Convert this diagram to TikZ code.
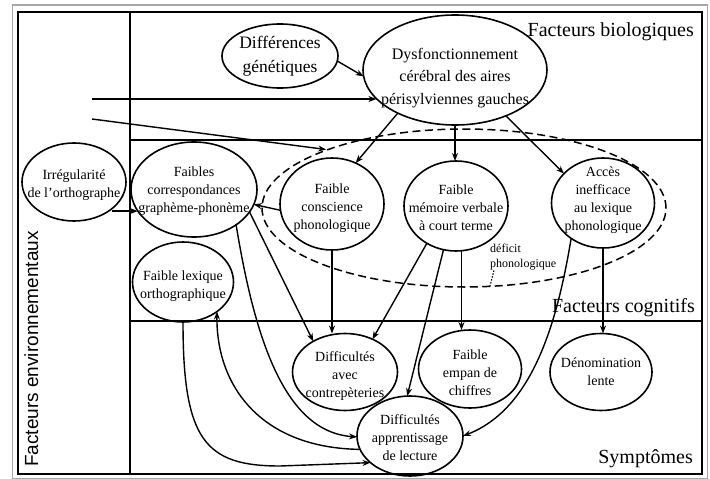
\documentclass[tikz,border=0pt]{standalone}
\usepackage{fontspec}
\setmainfont{Liberation Serif}
\newfontfamily\envfont{Liberation Sans}
\usetikzlibrary{arrows.meta,shapes.geometric}
\begin{document}
\begin{tikzpicture}[x=1pt,y=-1pt,
  oval/.style={draw, ellipse, line width=1.6pt, inner sep=0pt, outer sep=0pt},
  lbl/.style={font=\fontsize{14}{18}\selectfont, align=center, inner sep=0pt},
  arr/.style={line width=1.4pt, -{Stealth[length=8pt,width=6pt]}},
  title/.style={font=\fontsize{20}{24}\selectfont, inner sep=0pt},
  sep/.style={line width=1.6pt}
]
\useasboundingbox (0,0) rectangle (710,479);
\fill[white] (0,0) rectangle (710,479);
% frames
\draw[gray!70, line width=1.4pt] (12.5,5) rectangle (707.5,478.3);
\draw[line width=2pt] (17.5,12) rectangle (702,474);
\draw[sep] (130,12) -- (130,474);
\draw[sep] (130,140) -- (702,140);
\draw[sep] (130,321) -- (702,321);

% titles
\node[title, anchor=base east] (tb) at (694,36) {Facteurs biologiques};
\node[title, anchor=base east] (tc) at (695,312) {Facteurs cognitifs};
\node[title, anchor=base east] (ts) at (693,463) {Symptômes};
\node[font={\envfont\fontsize{19}{22}\selectfont}, rotate=90, anchor=base west, inner sep=0pt] (te) at (38,467) {Facteurs environnementaux};

% nodes
\node[oval, minimum width=116pt, minimum height=64pt,
  label={[lbl,font=\fontsize{17.5}{24}\selectfont]center:Différences\\génétiques}] (gen) at (280,56) {};
\node[oval, minimum width=184pt, minimum height=110pt,
  label={[lbl,font=\fontsize{16}{22.5}\selectfont,yshift=-8pt]center:Dysfonctionnement\\cérébral des aires\\périsylviennes gauches}] (dys) at (455,70) {};
\node[oval, minimum width=104pt, minimum height=78pt,
  label={[lbl,yshift=-3pt]center:Irrégularité\\de l’orthographe}] (irr) at (74,182) {};
\node[oval, minimum width=126pt, minimum height=95pt,
  label={[lbl,yshift=-2pt]center:Faibles\\correspondances\\graphème-phonème}] (cor) at (194,189.5) {};
\node[oval, minimum width=104pt, minimum height=92pt,
  label={[lbl,yshift=-4pt]center:Faible\\conscience\\phonologique}] (cons) at (332,204) {};
\node[oval, minimum width=104pt, minimum height=90pt,
  label={[lbl,yshift=-2pt]center:Faible\\mémoire verbale\\à court terme}] (mem) at (456,206) {};
\node[oval, minimum width=103pt, minimum height=90pt,
  label={[lbl,yshift=3pt]center:Accès\\inefficace\\au lexique\\phonologique}] (acc) at (603,203) {};
\node[oval, minimum width=101pt, minimum height=80pt,
  label={[lbl,yshift=-4pt]center:Faible lexique\\orthographique}] (lex) at (183,282) {};
\node[oval, minimum width=105pt, minimum height=77pt,
  label={[lbl,yshift=-4pt]center:Difficultés\\avec\\contrepèteries}] (con) at (345,372) {};
\node[oval, minimum width=103pt, minimum height=78pt,
  label={[lbl,yshift=-4pt]center:Faible\\empan de\\chiffres}] (emp) at (470,369) {};
\node[oval, minimum width=102pt, minimum height=77pt,
  label={[lbl]center:Dénomination\\lente}] (den) at (601,372) {};
\node[oval, minimum width=106pt, minimum height=80pt,
  label={[lbl,yshift=-2pt]center:Difficultés\\apprentissage\\de lecture}] (lec) at (410,436) {};

% deficit phonologique
\node[draw, ellipse, dash pattern=on 8pt off 4.5pt, line width=1.5pt,
  minimum width=404pt, minimum height=158pt, inner sep=0pt] (def) at (464,208) {};
\node[font=\fontsize{12}{15}\selectfont, align=left, anchor=north west, inner sep=0pt] (deflab) at (490,244) {déficit\\phonologique};
\draw[line width=1.1pt, dash pattern=on 1.5pt off 1.5pt] ([xshift=4pt]deflab.south west) -- (def.-72);

% connectors
\coordinate (e1) at (92,99);
\coordinate (e2) at (92,119);
\draw[arr] (gen.-5) -- (dys.184);
\draw[arr] (e1) -- (e1 -| dys.200);
\draw[arr] (e2) -- (def.157);
\draw[arr] (dys.217) -- (cons.60);
\draw[arr] (dys.south) -- (dys.south |- mem.north);
\draw[arr] (dys.-42) -- (acc.143);
\draw[arr] (irr.-35 |- cor.201) -- (cor.201);
\draw[arr] (cons.187) -- (cor.-14);
\draw[arr] (cons.south) -- (cons.south |- con.north);
\draw[arr] (cor.-22) -- (con.136);
\draw[arr] (cor.-40) .. controls (255,340) and (285,432) .. (lec.181);
\draw[arr] (lec.195) .. controls (260,448) and (216,385) .. (lex.-41);
\draw[arr] (lex.south) .. controls (183,440) and (205,466) .. (280,466) -- (lec.214);
\draw[arr] (mem.232) -- (con.50);
\draw[arr] (mem.254) -- (lec.94);
\draw[arr] (mem.-83) -- (mem.-83 |- emp.north);
\draw[arr] (acc.228) .. controls (556,330) and (530,410) .. (lec.0);
\draw[arr] (acc.south) -- (acc.south |- den.north);
\end{tikzpicture}
\end{document}
